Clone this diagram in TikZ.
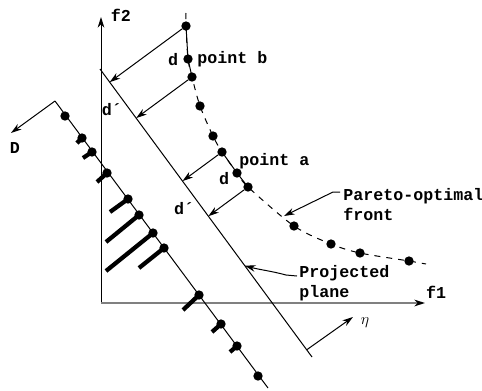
\documentclass[tikz,border=0pt]{standalone}
\usepackage{fontspec}
\setmonofont{Liberation Mono}
\usetikzlibrary{arrows.meta,calc}
\begin{document}
\begin{tikzpicture}[x=0.75pt,y=-0.75pt,
  ln/.style={line width=0.75pt},
  arr/.style={ln,-{Stealth[length=8pt,width=5pt,inset=2.5pt]}},
  dot/.style={circle,fill,inner sep=0pt,minimum size=7pt},
  lbl/.style={font=\ttfamily\bfseries\fontsize{12.5}{15}\selectfont,inner sep=0pt},
  stem/.style={line width=3.2pt},
  front/.style={ln,dash pattern=on 4.5pt off 4.5pt}]
\useasboundingbox (0,0) rectangle (482,390);

% axes
\coordinate (O) at (101,303);
\coordinate (Ytip) at (101,17);
\coordinate (Xtip) at (425,303);
\draw[arr] (O) -- (Ytip);
\draw[line width=1.2pt,draw=gray,-{Stealth[length=8pt,width=5pt,inset=2.5pt,color=black]}] (O) -- (Xtip);
\node[lbl] (f2) at (121,15) {f2};
\node[lbl] (f1) at (436,292) {f1};

% projected plane
\coordinate (P1) at (100,69);
\coordinate (P2) at (312,357);
\draw[ln] (P1) -- (P2);

% Pareto-optimal front
\coordinate (ftop) at (186,13);
\node[dot] (b1) at (186,26) {};
\node[dot] (b2) at (188,59) {};
\node[dot] (b3) at (192,77) {};
\node[dot] (b4) at (200,106) {};
\node[dot] (b5) at (213,136) {};
\node[dot] (b6) at (222,152) {};
\node[dot] (b7) at (237,173) {};
\node[dot] (b8) at (248,187) {};
\node[dot] (b9) at (294,226) {};
\node[dot] (b10) at (331,244) {};
\node[dot] (b11) at (360,253) {};
\node[dot] (b12) at (409,261) {};
\coordinate (fend) at (426,264);
\draw[front] plot[smooth,tension=0.5] coordinates {(ftop) (b1.center) (b2.center) (b3.center) (b4.center) (b5.center) (b6.center) (b7.center) (b8.center) (b9.center) (b10.center) (b11.center) (b12.center) (fend)};
\draw[ln] (b1.center) -- (b2.center) -- (b3.center);
\draw[ln] (b6.center) -- (b7.center) -- (b8.center);

% perpendicular arrows to the plane
\coordinate (q1) at ($(P1)!(b1)!(P2)$);
\coordinate (q3) at ($(P1)!(b3)!(P2)$);
\coordinate (q6) at ($(P1)!(b6)!(P2)$);
\coordinate (q8) at ($(P1)!(b8)!(P2)$);
\draw[arr] (b1) -- (q1);
\draw[arr] (b3) -- (q3);
\draw[arr] (b6) -- (q6);
\draw[arr] (b8) -- (q8);

% labels
\node[lbl] (db) at (173,60) {d};
\node[lbl,anchor=west] (pb) at (197,59) {point b};
\node[lbl] (dpb) at (112,110) {d´};
\node[lbl] (da) at (224,179) {d};
\node[lbl,anchor=west] (pa) at (239,161) {point a};
\node[lbl] (dpa) at (184,209) {d´};

% Pareto-optimal front label
\node[lbl,align=left,anchor=west] (pl) at (343,205) {Pareto-optimal\\front};
\coordinate (plA) at (340,192);
\coordinate (plB) at (333,192);
\coordinate (plT) at (284,216);
\draw[arr] (plA) -- (plB) -- (plT);

% Projected plane label
\node[lbl,align=left,anchor=west] (pp) at (299,283) {Projected\\plane};
\coordinate (ppA) at (297,276);
\coordinate (ppB) at (286,275);
\coordinate (ppT) at ($(P1)!0.683!(P2)$);
\draw[arr] (ppA) -- (ppB) to[out=165,in=-15] (ppT);

% eta arrow
\coordinate (e0) at ($(P1)!0.975!(P2)$);
\coordinate (e1) at (353,317);
\draw[arr] (e0) -- (e1);
\node[inner sep=0pt,font=\fontsize{13}{15}\selectfont] (eta) at (365,323) {$\eta$};

% D line
\coordinate (D0) at (55,101);
\coordinate (D1) at (268,388);
\coordinate (Dt) at (11,133);
\draw[ln] (D0) -- (D1);
\draw[arr] (D0) -- (Dt);
\node[lbl] (Dl) at (15,148) {D};

\node[dot] (s0) at (65,116) {};
\node[dot] (s11) at (258,376) {};
\foreach \i/\px/\py/\sx/\sy in {1/82/138/77/143, 2/92/152/83/158, 3/107/173/97/182, 4/128/199/110/212, 5/139/215/106/242, 6/153/233/106/271, 7/164/248/139/268, 8/199/295/183/310, 9/221/324/212/332, 10/237/346/230/352}{
  \node[dot] (s\i) at (\px,\py) {};
  \coordinate (t\i) at (\sx,\sy);
  \draw[stem] (s\i.center) -- (t\i);
}
\end{tikzpicture}
\end{document}
